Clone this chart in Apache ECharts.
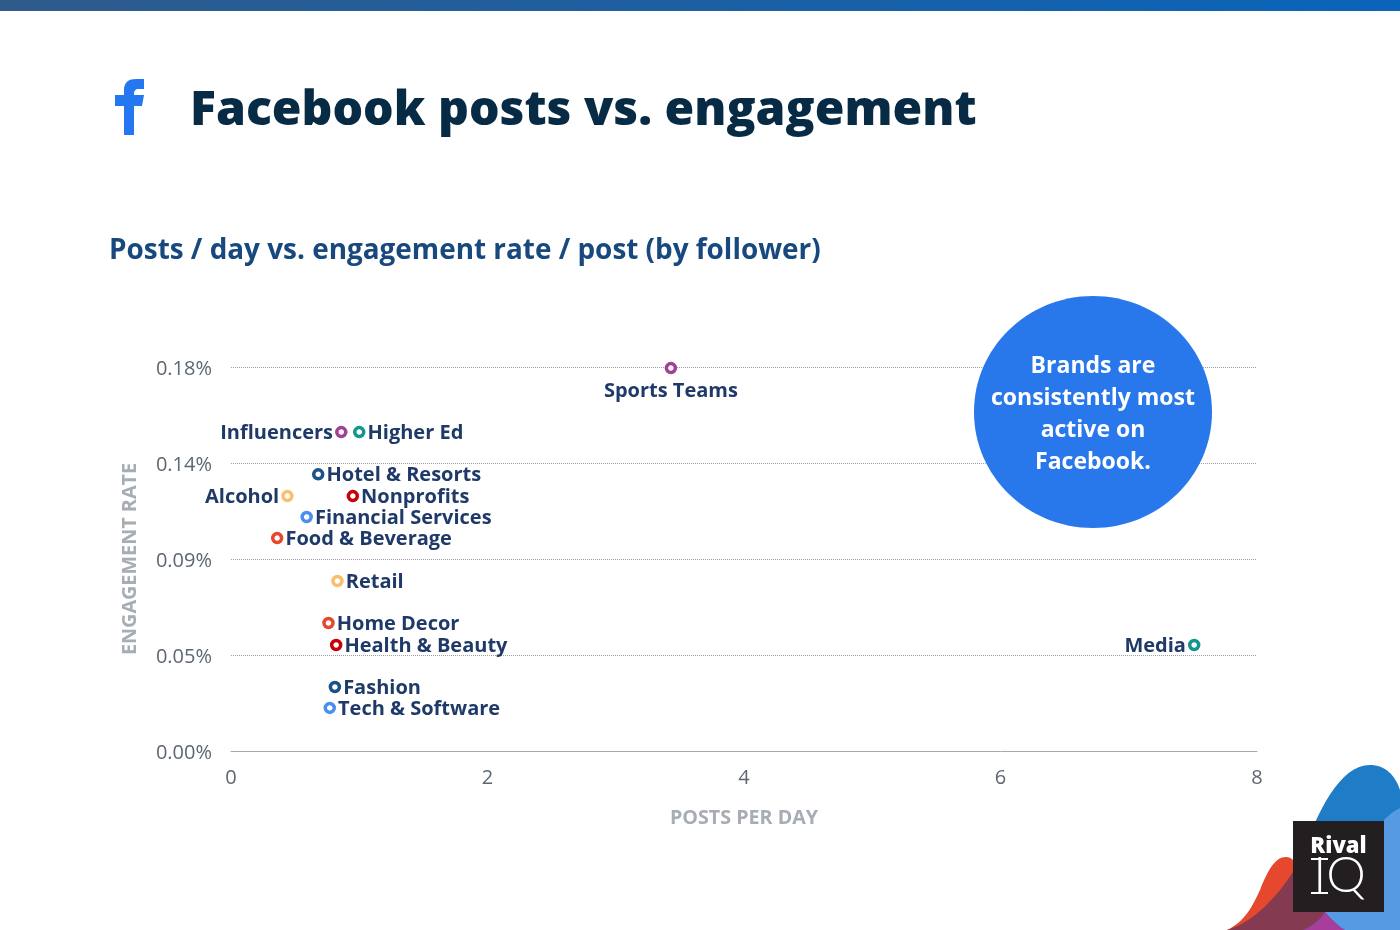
<!DOCTYPE html>
<html lang="en">
<head>
<meta charset="UTF-8">
<title>Facebook posts vs. engagement</title>
<script src="https://cdn.jsdelivr.net/npm/echarts@6/dist/echarts.min.js"></script>
<style>
html,body{margin:0;padding:0;background:#fff}
#main{width:1400px;height:930px}
</style>
</head>
<body>
<div id="main"></div>
<script>
var industries = ['Sports Teams','Influencers','Higher Ed','Hotel & Resorts','Nonprofits','Alcohol','Financial Services','Food & Beverage','Retail','Home Decor','Health & Beauty','Media','Fashion','Tech & Software'];
var postsPerDay = [3.43,0.86,1.0,0.68,0.95,0.44,0.59,0.36,0.83,0.76,0.82,7.51,0.81,0.77];
var engagementRate = [0.1795,0.1495,0.1495,0.1297,0.1195,0.1195,0.1097,0.0998,0.0797,0.06,0.0497,0.0497,0.03,0.0202];
var dotColors = ['#a23f97','#a23f97','#14958f','#1b5288','#c8000a','#f9bf6b','#4a8ff0','#e5482d','#f9bf6b','#e5482d','#c8000a','#14958f','#1b5288','#4a8ff0'];
var labelSides = ['bottom','left','right','right','right','left','right','right','right','right','right','left','right','right'];
var yTickLabels = ['0.00%','0.05%','0.09%','0.14%','0.18%'];
var xMax = 8, yMax = 0.18, yStep = 0.045;

var font = '"Open Sans", "Noto Sans", sans-serif';
var chart = echarts.init(document.getElementById('main'));

// the graphic component has no plain path type, so register the svg shapes
function shape(name, d) {
    echarts.graphic.registerShape(name, echarts.graphic.extendPath(d));
}
shape('fbIcon', 'M124 135 L124 106 L115 106 L115 95 L124 95 L124 90 C124 82 129 79 136 79 L144 79 L144 89 L139 89 C135 89 134 91 134 94 L134 95 L144 95 L142 106 L134 106 L134 135 Z');
shape('blobBlue', 'M1300 860 C1318 810 1340 765 1370 765 C1385 765 1395 775 1400 790 L1400 930 L1300 930 Z');
shape('blobLight', 'M1400 808 C1392 812 1385 818 1380 825 L1325 912 C1332 920 1338 926 1345 930 L1400 930 Z');
shape('blobRed', 'M1227 930 C1245 922 1253 905 1260 890 C1268 870 1275 857 1286 857 C1289 857 1291 858 1293 860 L1293 930 Z');
shape('blobPurple', 'M1303 930 C1312 926 1320 920 1325 912 C1332 920 1338 926 1345 930 Z');
shape('blobDark', 'M1227 930 C1255 922 1278 895 1293 872 L1293 912 L1325 912 C1320 920 1312 926 1303 930 Z');

var points = [];
for (var i = 0; i < industries.length; i++) {
    points.push({
        name: industries[i],
        value: [postsPerDay[i], engagementRate[i]],
        itemStyle: {color: '#fff', borderColor: dotColors[i], borderWidth: 3.5, opacity: 1},
        label: {position: labelSides[i], distance: labelSides[i] == 'bottom' ? 6 : 2}
    });
}

var option = {
    animation: false,
    backgroundColor: '#fff',
    textStyle: {fontFamily: font},
    grid: {left: 231, right: 143, top: 367, bottom: 179},
    xAxis: {
        type: 'value', min: 0, max: xMax, interval: 2,
        name: 'POSTS PER DAY', nameLocation: 'middle', nameGap: 57,
        nameTextStyle: {color: '#a7adb2', fontSize: 19.7, fontWeight: 700, fontFamily: font},
        axisLine: {show: true, onZero: false, lineStyle: {color: '#a8a8a8', width: 1}},
        axisTick: {show: false},
        axisLabel: {color: '#5d6673', fontSize: 20, margin: 17, fontFamily: font},
        splitLine: {show: false}
    },
    yAxis: {
        type: 'value', min: 0, max: yMax, interval: yStep,
        name: 'ENGAGEMENT RATE', nameLocation: 'middle', nameGap: 91,
        nameTextStyle: {color: '#a7adb2', fontSize: 19.8, fontWeight: 700, fontFamily: font},
        axisLine: {show: false},
        axisTick: {show: false},
        axisLabel: {
            color: '#5d6673', fontSize: 20, margin: 19, fontFamily: font,
            verticalAlign: 'top', lineHeight: 5,
            formatter: function (v) { return yTickLabels[Math.round(v / yStep)]; }
        },
        splitLine: {lineStyle: {color: '#9a9ea3', type: 'dotted', width: 1}}
    },
    series: [{
        type: 'scatter',
        symbol: 'circle',
        symbolSize: 9,
        clip: false,
        data: points,
        label: {
            show: true,
            formatter: '{b}',
            color: '#1f3a68',
            fontSize: 20,
            fontWeight: 700,
            fontFamily: font,
            opacity: 1,
            offset: [0, 1]
        }
    }],
    graphic: [
        // top bar
        {type: 'rect', silent: true, shape: {x: 0, y: 0, width: 1400, height: 11},
            style: {fill: new echarts.graphic.LinearGradient(0, 0, 1, 0, [{offset: 0, color: '#2f5b8b'}, {offset: 1, color: '#0a64ba'}])}},
        {type: 'fbIcon', silent: true, style: {fill: '#2477f1'}},
        {type: 'text', silent: true, x: 190, y: 111,
            style: {text: 'Facebook posts vs. engagement', fill: '#072b45', font: '800 48.1px ' + font, textVerticalAlign: 'middle'}},
        {type: 'text', silent: true, x: 109, y: 251,
            style: {text: 'Posts / day vs. engagement rate / post (by follower)', fill: '#17497f', font: '700 27.9px ' + font, textVerticalAlign: 'middle'}},
        // callout
        {type: 'ellipse', silent: true, z: 5, shape: {cx: 1093, cy: 412, rx: 119, ry: 116}, style: {fill: '#2878eb'}},
        {type: 'text', silent: true, z: 6, x: 1093, y: 414,
            style: {text: 'Brands are\nconsistently most\nactive on\nFacebook.', fill: '#fff', font: '700 23px ' + font, lineHeight: 32, align: 'center', verticalAlign: 'middle'}},
        // logo
        {type: 'blobBlue', silent: true, z: 1, style: {fill: '#1f7cc6'}},
        {type: 'blobLight', silent: true, z: 2, style: {fill: '#559ae2'}},
        {type: 'blobRed', silent: true, z: 2, style: {fill: '#e5482d'}},
        {type: 'blobPurple', silent: true, z: 3, style: {fill: '#a83d9c'}},
        {type: 'blobDark', silent: true, z: 3, style: {fill: '#843a50'}},
        {type: 'rect', silent: true, z: 4, shape: {x: 1293, y: 821, width: 91, height: 91}, style: {fill: '#231f20'}},
        {type: 'text', silent: true, z: 5, x: 1338.5, y: 847,
            style: {text: 'Rival', fill: '#fff', font: '800 22px ' + font, align: 'center', verticalAlign: 'middle'}},
        {type: 'text', silent: true, z: 5, x: 1339.5, y: 876,
            style: {text: 'IQ', fill: '#fff', font: '300 50px Lato, ' + font, align: 'center', verticalAlign: 'middle'}},
        // slab serifs of the I
        {type: 'rect', silent: true, z: 5, shape: {x: 1311, y: 858, width: 17, height: 2}, style: {fill: '#fff'}},
        {type: 'rect', silent: true, z: 5, shape: {x: 1311, y: 892, width: 17, height: 2}, style: {fill: '#fff'}}
    ]
};
chart.setOption(option);
</script>
</body>
</html>
